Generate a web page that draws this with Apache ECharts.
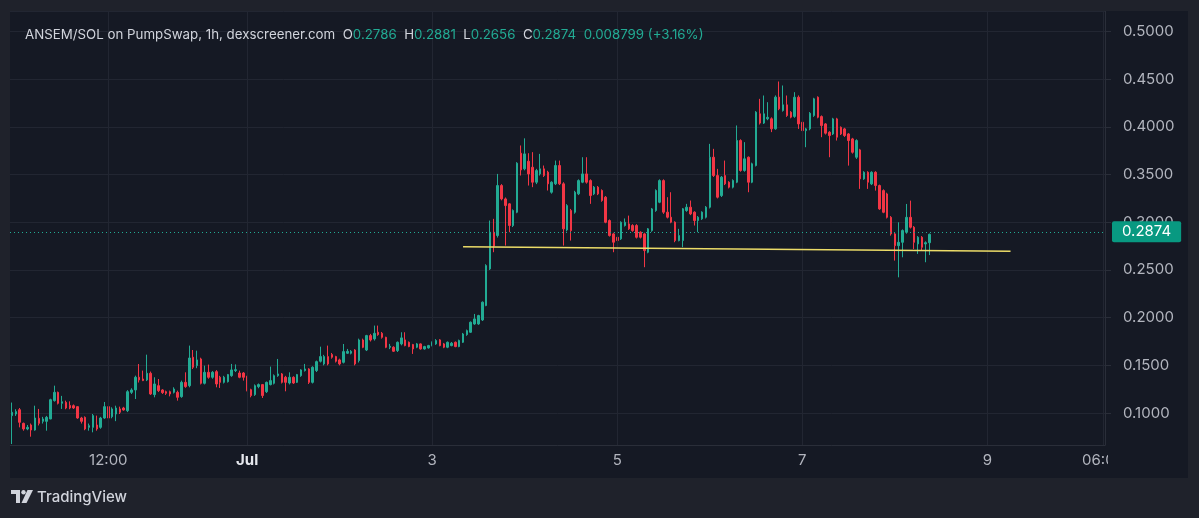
<!DOCTYPE html>
<html><head><meta charset="utf-8">
<script src="https://cdn.jsdelivr.net/npm/echarts@6/dist/echarts.min.js"></script>
<style>html,body{margin:0;padding:0;background:#1f222b;}#c{width:1199px;height:518px;}</style>
</head><body><div id="c"></div>
<script>
// ---- text / labels ----
const pairTitle = 'ANSEM/SOL on PumpSwap, 1h, dexscreener.com';
const legendKeys = ['O', 'H', 'L', 'C'];
const legendValues = ['0.2786', '0.2881', '0.2656', '0.2874'];
const changeText = '0.008799 (+3.16%)';
const lastPrice = 0.2874;
const brandText = 'TradingView';

// ---- time axis ----
const firstCandleUTC = Date.UTC(2025, 5, 28, 11); // Jun 28 11:00, hourly candles
const axisHours = 284;
const tickTimes = ['06-29 12:00', '07-01 00:00', '07-03 00:00', '07-05 00:00', '07-07 00:00', '07-09 00:00', '07-10 06:00'];
const tickLabels = ['12:00', 'Jul', '3', '5', '7', '9', '06:00'];
const boldTicks = ['Jul'];

// ---- drawn support line (time, price) ----
const supportStart = ['07-03 08:00', 0.2743];
const supportEnd = ['07-09 06:00', 0.2697];

// ---- OHLC (hourly) ----
const opens = [
0.0973,0.0990,0.1035,0.0892,0.0833,0.0875,0.0822,0.0945,0.0913,0.0913,
0.0938,0.1130,0.1217,0.1102,0.1112,0.1080,0.1077,0.1067,0.0948,0.0955,
0.0850,0.0850,0.0875,0.0850,0.0948,0.1067,0.0962,0.0990,0.1043,0.1053,
0.1025,0.1217,0.1242,0.1375,0.1357,0.1347,0.1417,0.1193,0.1287,0.1242,
0.1224,0.1224,0.1217,0.1217,0.1172,0.1322,0.1287,0.1585,0.1497,0.1567,
0.1312,0.1427,0.1375,0.1434,0.1375,0.1322,0.1329,0.1392,0.1445,0.1420,
0.1420,0.1385,0.1245,0.1193,0.1277,0.1298,0.1224,0.1298,0.1312,0.1392,
0.1410,0.1375,0.1315,0.1375,0.1322,0.1392,0.1445,0.1462,0.1322,0.1445,
0.1543,0.1515,0.1592,0.1613,0.1592,0.1557,0.1532,0.1627,0.1627,0.1661,
0.1550,0.1766,0.1661,0.1812,0.1777,0.1847,0.1836,0.1794,0.1689,0.1690,
0.1655,0.1725,0.1767,0.1742,0.1718,0.1690,0.1725,0.1672,0.1683,0.1707,
0.1725,0.1767,0.1725,0.1690,0.1707,0.1742,0.1697,0.1742,0.1822,0.1847,
0.1934,0.1934,0.1976,0.2127,0.2511,0.2896,0.2861,0.3385,0.3245,0.3193,
0.2966,0.3105,0.3724,0.3560,0.3640,0.3577,0.3420,0.3507,0.3560,0.3525,
0.3315,0.3403,0.3595,0.3403,0.2920,0.3123,0.3105,0.3298,0.3420,0.3507,
0.3437,0.3298,0.3368,0.3333,0.3263,0.3018,0.2878,0.2843,0.2826,0.2966,
0.2983,0.2966,0.2966,0.2896,0.2878,0.2686,0.2913,0.3123,0.3210,0.3437,
0.3106,0.3053,0.3001,0.2808,0.2808,0.3123,0.3158,0.3106,0.3018,0.3036,
0.3053,0.3158,0.3682,0.3490,0.3280,0.3490,0.3420,0.3368,0.3420,0.3857,
0.3543,0.3682,0.3420,0.3595,0.4137,0.4040,0.4085,0.4085,0.3980,0.4312,
0.4172,0.4231,0.4154,0.4110,0.4311,0.4049,0.3961,0.3979,0.4119,0.4311,
0.4108,0.4031,0.3944,0.3926,0.4084,0.3996,0.3979,0.3926,0.3874,0.3682,
0.3759,0.3455,0.3524,0.3402,0.3524,0.3385,0.3332,0.3297,0.3052,0.2878,
0.2755,0.2790,0.2895,0.3052,0.2948,0.2773,0.2843,0.2773,0.2786
];
const highs = [
0.1110,0.1040,0.1053,0.0900,0.0875,0.0890,0.1077,0.1043,0.0960,0.0970,
0.1150,0.1287,0.1225,0.1180,0.1130,0.1123,0.1090,0.1070,0.0960,0.0965,
0.0890,0.0990,0.0973,0.0960,0.1116,0.1080,0.1060,0.1077,0.1067,0.1065,
0.1240,0.1260,0.1392,0.1514,0.1445,0.1612,0.1435,0.1375,0.1357,0.1250,
0.1235,0.1235,0.1270,0.1235,0.1340,0.1427,0.1707,0.1661,0.1654,0.1580,
0.1497,0.1508,0.1440,0.1450,0.1390,0.1390,0.1410,0.1515,0.1510,0.1445,
0.1430,0.1390,0.1255,0.1300,0.1310,0.1305,0.1330,0.1487,0.1405,0.1567,
0.1420,0.1390,0.1427,0.1385,0.1410,0.1460,0.1515,0.1470,0.1490,0.1550,
0.1696,0.1610,0.1707,0.1630,0.1600,0.1570,0.1724,0.1672,0.1660,0.1670,
0.1780,0.1780,0.1820,0.1830,0.1917,0.1917,0.1850,0.1800,0.1725,0.1700,
0.1750,0.1847,0.1847,0.1750,0.1725,0.1735,0.1730,0.1705,0.1715,0.1750,
0.1775,0.1775,0.1735,0.1750,0.1745,0.1750,0.1770,0.1840,0.1875,0.1960,
0.2039,0.2030,0.2170,0.2560,0.3018,0.3036,0.3507,0.3400,0.3260,0.3200,
0.3135,0.3630,0.3805,0.3880,0.3724,0.3735,0.3560,0.3717,0.3595,0.3540,
0.3430,0.3647,0.3647,0.3420,0.3190,0.3140,0.3330,0.3450,0.3682,0.3682,
0.3450,0.3380,0.3380,0.3345,0.3275,0.3030,0.2890,0.2855,0.3010,0.3040,
0.3070,0.2980,0.2980,0.2905,0.2890,0.2940,0.3150,0.3345,0.3450,0.3450,
0.3263,0.3315,0.3010,0.2931,0.3150,0.3193,0.3228,0.3115,0.3065,0.3115,
0.3170,0.3822,0.3770,0.3560,0.3485,0.3647,0.3430,0.3450,0.4015,0.3870,
0.3840,0.3690,0.3625,0.4165,0.4294,0.4329,0.4259,0.4100,0.4330,0.4476,
0.4434,0.4329,0.4165,0.4364,0.4330,0.4060,0.3990,0.4155,0.4305,0.4320,
0.4120,0.4040,0.3955,0.4095,0.4095,0.4005,0.3990,0.3935,0.3885,0.3870,
0.3770,0.3535,0.3535,0.3535,0.3535,0.3395,0.3345,0.3310,0.3065,0.2890,
0.3000,0.2925,0.3192,0.3227,0.2960,0.2855,0.2855,0.2800,0.2881
];
const lows = [
0.0675,0.0970,0.0850,0.0815,0.0820,0.0752,0.0815,0.0870,0.0890,0.0815,
0.0935,0.1120,0.1090,0.1043,0.1040,0.1040,0.1043,0.0940,0.0890,0.0820,
0.0815,0.0798,0.0815,0.0835,0.0940,0.0940,0.0945,0.0915,0.0990,0.1025,
0.1010,0.1200,0.1147,0.1320,0.1335,0.1335,0.1190,0.1165,0.1220,0.1200,
0.1190,0.1175,0.1205,0.1130,0.1160,0.1265,0.1270,0.1462,0.1470,0.1300,
0.1300,0.1360,0.1360,0.1270,0.1263,0.1310,0.1320,0.1380,0.1430,0.1365,
0.1340,0.1228,0.1165,0.1180,0.1260,0.1158,0.1210,0.1290,0.1300,0.1380,
0.1310,0.1228,0.1300,0.1305,0.1315,0.1380,0.1435,0.1305,0.1310,0.1430,
0.1530,0.1500,0.1500,0.1570,0.1530,0.1500,0.1520,0.1620,0.1615,0.1500,
0.1530,0.1680,0.1650,0.1750,0.1760,0.1810,0.1780,0.1680,0.1670,0.1640,
0.1640,0.1710,0.1700,0.1690,0.1620,0.1680,0.1665,0.1665,0.1675,0.1700,
0.1715,0.1700,0.1680,0.1680,0.1700,0.1690,0.1690,0.1735,0.1810,0.1840,
0.1925,0.1925,0.1965,0.2120,0.2500,0.2686,0.2840,0.3230,0.2756,0.2896,
0.2950,0.3095,0.3490,0.3545,0.3385,0.3368,0.3400,0.3490,0.3475,0.3333,
0.3300,0.3390,0.3390,0.2756,0.2905,0.2808,0.3090,0.3285,0.3410,0.3405,
0.3193,0.3285,0.3285,0.3215,0.2990,0.2850,0.2686,0.2790,0.2815,0.2955,
0.2920,0.2900,0.2830,0.2830,0.2529,0.2675,0.2900,0.3110,0.3200,0.3088,
0.3040,0.2990,0.2791,0.2800,0.2739,0.3110,0.3075,0.2966,0.2896,0.3025,
0.3040,0.3145,0.3475,0.3250,0.3265,0.3390,0.3355,0.3355,0.3410,0.3530,
0.3530,0.3315,0.3410,0.3585,0.4025,0.4030,0.4070,0.3945,0.3970,0.4175,
0.4160,0.4105,0.4090,0.4095,0.3979,0.3839,0.3787,0.3965,0.4105,0.4090,
0.3892,0.3920,0.3682,0.3915,0.3857,0.3915,0.3895,0.3594,0.3720,0.3664,
0.3350,0.3445,0.3350,0.3390,0.3332,0.3130,0.3095,0.3040,0.2860,0.2598,
0.2423,0.2633,0.2880,0.2935,0.2720,0.2668,0.2703,0.2581,0.2656
];
const closes = [
0.1008,0.1015,0.0903,0.0833,0.0850,0.0822,0.0948,0.0892,0.0938,0.0955,
0.1140,0.1217,0.1102,0.1119,0.1053,0.1053,0.1053,0.0948,0.0913,0.0833,
0.0868,0.0973,0.0833,0.0948,0.1067,0.0948,0.1043,0.1053,0.1008,0.1032,
0.1224,0.1242,0.1375,0.1347,0.1340,0.1417,0.1200,0.1305,0.1235,0.1214,
0.1207,0.1200,0.1252,0.1165,0.1322,0.1277,0.1577,0.1480,0.1557,0.1312,
0.1427,0.1375,0.1427,0.1305,0.1322,0.1375,0.1403,0.1452,0.1455,0.1375,
0.1375,0.1235,0.1183,0.1287,0.1298,0.1183,0.1322,0.1340,0.1392,0.1410,
0.1322,0.1322,0.1375,0.1315,0.1403,0.1452,0.1462,0.1322,0.1480,0.1539,
0.1592,0.1592,0.1515,0.1585,0.1543,0.1515,0.1644,0.1647,0.1647,0.1515,
0.1766,0.1689,0.1812,0.1766,0.1836,0.1822,0.1794,0.1689,0.1700,0.1648,
0.1742,0.1788,0.1707,0.1697,0.1672,0.1725,0.1672,0.1697,0.1707,0.1742,
0.1760,0.1707,0.1690,0.1742,0.1732,0.1697,0.1760,0.1829,0.1864,0.1952,
0.1987,0.2022,0.2162,0.2546,0.2896,0.2750,0.3385,0.3245,0.3175,0.2966,
0.3123,0.3619,0.3549,0.3717,0.3507,0.3420,0.3542,0.3560,0.3490,0.3403,
0.3420,0.3595,0.3403,0.2931,0.3175,0.2913,0.3315,0.3437,0.3507,0.3420,
0.3280,0.3368,0.3298,0.3228,0.3000,0.2861,0.2791,0.2808,0.3000,0.3000,
0.2931,0.2913,0.2843,0.2843,0.2703,0.2931,0.3140,0.3333,0.3437,0.3106,
0.3053,0.3001,0.2808,0.2861,0.3141,0.3158,0.3088,0.3018,0.3053,0.3106,
0.3158,0.3682,0.3490,0.3263,0.3473,0.3403,0.3368,0.3438,0.3857,0.3543,
0.3665,0.3420,0.3613,0.4154,0.4040,0.4137,0.4100,0.3980,0.4312,0.4189,
0.4231,0.4119,0.4102,0.4311,0.4031,0.3961,0.3979,0.4143,0.4294,0.4101,
0.4014,0.3934,0.3909,0.4084,0.3892,0.3926,0.3909,0.3857,0.3734,0.3857,
0.3455,0.3524,0.3420,0.3524,0.3385,0.3140,0.3105,0.3052,0.2878,0.2755,
0.2790,0.2913,0.3052,0.2948,0.2790,0.2843,0.2738,0.2786,0.2874
];

// ---- build ----
const pad = n => (n < 10 ? '0' : '') + n;
const categories = [];
for (let h = 0; h < axisHours; h++) {
  const d = new Date(firstCandleUTC + h * 3600000);
  categories.push(pad(d.getUTCMonth() + 1) + '-' + pad(d.getUTCDate()) + ' ' + pad(d.getUTCHours()) + ':00');
}
const candles = opens.map((o, i) => [o, closes[i], lows[i], highs[i]]);

const PANEL = '#151924', OUTER = '#1f222b', GRID = '#222632', BORDER = '#2a2e39';
const TXT = '#b2b5be', UP = '#22ab94', DOWN = '#f23645', FONT = 'Inter, Roboto, sans-serif';
const HEAD = 13.3;

let header = '{t|' + pairTitle + '}';
legendKeys.forEach((k, i) => { header += '  {t|' + k + '}{g|' + legendValues[i] + '}'; });
header += '  {g|' + changeText + '}';

const chart = echarts.init(document.getElementById('c'), null, {renderer: 'canvas'});
chart.setOption({
  backgroundColor: PANEL,
  animation: false,
  textStyle: {fontFamily: FONT},
  title: {
    left: 20, top: 23, text: header,
    textStyle: {fontSize: HEAD, color: '#d1d4dc', fontFamily: FONT, fontWeight: 'normal',
      rich: {t: {fontSize: HEAD, color: '#d1d4dc', fontFamily: FONT},
             g: {fontSize: HEAD, color: UP, fontFamily: FONT}}}
  },
  grid: {left: 10, right: 94, top: 11, bottom: 73},
  xAxis: {
    type: 'category', data: categories, boundaryGap: true,
    axisLine: {show: true, lineStyle: {color: BORDER}},
    axisTick: {show: false}, splitLine: {show: false},
    axisLabel: {
      interval: (i, v) => tickTimes.includes(v),
      formatter: v => { const s = tickLabels[tickTimes.indexOf(v)]; return boldTicks.includes(s) ? '{b|' + s + '}' : s; },
      color: TXT, fontSize: 15, fontFamily: FONT, margin: 8,
      rich: {b: {color: '#e6e8ee', fontWeight: 'bold', fontSize: 15, fontFamily: FONT}}
    }
  },
  yAxis: {
    type: 'value', position: 'right', min: 0.0665, max: 0.5215,
    splitNumber: 9, minInterval: 0.05, maxInterval: 0.05,
    axisLine: {show: true, lineStyle: {color: BORDER}},
    axisTick: {show: true, length: 6, lineStyle: {color: BORDER}},
    axisLabel: {color: TXT, fontSize: 15, fontFamily: FONT, margin: 18,
      showMinLabel: false, showMaxLabel: false, formatter: v => v.toFixed(4)},
    splitLine: {show: true, lineStyle: {color: GRID}}
  },
  series: [
    {
      type: 'line', data: [], z: 1, silent: true,
      markLine: {silent: true, symbol: 'none', animation: false, label: {show: false},
        lineStyle: {color: GRID, type: 'solid', width: 1},
        data: tickTimes.map(t => ({xAxis: t}))}
    },
    {
      type: 'candlestick', z: 3, data: candles, barWidth: 2,
      itemStyle: {color: UP, color0: DOWN, borderColor: UP, borderColor0: DOWN, borderWidth: 1},
      markLine: {
        silent: true, symbol: 'none', animation: false,
        data: [
          {yAxis: lastPrice, lineStyle: {color: UP, type: [1, 3], width: 1},
           label: {show: true, position: 'end', formatter: lastPrice.toFixed(4), color: '#ffffff',
             backgroundColor: '#089981', padding: [3, 10, 3, 10], fontSize: 15, fontFamily: FONT,
             distance: 7, borderRadius: 2}},
          [{coord: supportStart, lineStyle: {color: '#ecdc68', width: 1.5, type: 'solid'}, label: {show: false}},
           {coord: supportEnd}]
        ]
      }
    }
  ],
  graphic: [
    {type: 'rect', z: 100, silent: true, shape: {x: 0, y: 0, width: 1199, height: 11}, style: {fill: OUTER}},
    {type: 'rect', z: 100, silent: true, shape: {x: 0, y: 0, width: 10, height: 518}, style: {fill: OUTER}},
    {type: 'rect', z: 100, silent: true, shape: {x: 1188, y: 0, width: 11, height: 518}, style: {fill: OUTER}},
    {type: 'rect', z: 100, silent: true, shape: {x: 0, y: 478, width: 1199, height: 40}, style: {fill: OUTER}},
    {type: 'rect', z: 100, silent: true, shape: {x: 1108, y: 446, width: 80, height: 32}, style: {fill: PANEL}},
    {type: 'group', x: 11, y: 490, z: 101, silent: true, children: [
      {type: 'rect', z: 101, shape: {x: 0, y: 0, width: 9, height: 4}, style: {fill: '#d1d4dc'}},
      {type: 'rect', z: 101, shape: {x: 5, y: 0, width: 4, height: 13}, style: {fill: '#d1d4dc'}},
      {type: 'circle', z: 101, shape: {cx: 12.5, cy: 2.2, r: 2.2}, style: {fill: '#d1d4dc'}},
      {type: 'polygon', z: 101, shape: {points: [[16.5, 0], [22, 0], [15.5, 13], [10.5, 13]]}, style: {fill: '#d1d4dc'}}
    ]},
    {type: 'text', z: 101, x: 37, y: 497, silent: true,
     style: {text: brandText, fill: '#d1d4dc', font: '500 15px Inter, Roboto, sans-serif', verticalAlign: 'middle'}}
  ]
});
</script>
</body></html>
